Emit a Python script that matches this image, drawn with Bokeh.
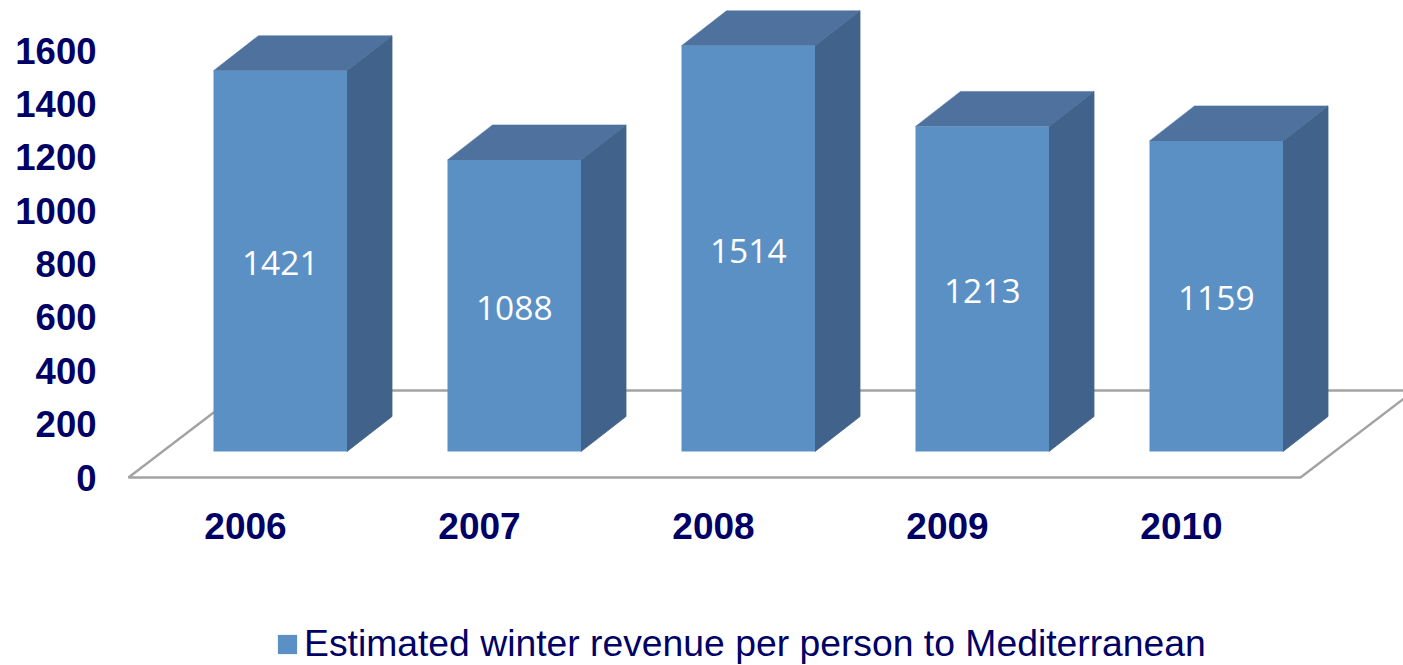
from bokeh.embed import file_html
from bokeh.resources import INLINE
from bokeh.plotting import figure
from bokeh.models import Range1d, LinearAxis, FixedTicker, Legend, LegendItem, ColumnDataSource
from bokeh.core.properties import value

years = ["2006", "2007", "2008", "2009", "2010"]
revenue = [1421, 1088, 1514, 1213, 1159]
y_ticks = [0, 200, 400, 600, 800, 1000, 1200, 1400, 1600]
series_name = "Estimated winter revenue per person to Mediterranean"

NAVY = "#000066"
FRONT, TOP, SIDE = "#5B90C4", "#4E729D", "#41638B"
FLOOR = "#A3A3A3"

W, H = 1403, 665
FL, FH = 105, H            # frame left / height: frame reaches the page bottom
FW = W - FL
PX_X = 234.0               # pixels per category
AX_S = 427 / 1600          # axis pixels per unit
BAR_S = 0.268              # bar pixels per unit
X0 = 23                    # floor front-left, px from frame left
AX0 = H - 477              # floor front, px above frame bottom
BAR0 = H - 451             # bar base, px above frame bottom

x_start = -X0 / PX_X
x_range = Range1d(x_start, x_start + FW / PX_X)
y_range = Range1d(-AX0 / AX_S, (FH - AX0) / AX_S)

p = figure(frame_width=FW, frame_height=FH, x_range=x_range, y_range=y_range,
           output_backend="svg", toolbar_location=None, x_axis_location=None, y_axis_location=None,
           min_border_left=FL, min_border_top=0, min_border_right=0, min_border_bottom=0,
           outline_line_color=None, background_fill_color="white", border_fill_color="white")
p.grid.visible = False
p.extra_y_ranges = {"bars": Range1d(-BAR0 / BAR_S, (FH - BAR0) / BAR_S)}

# Axes
ya = LinearAxis(ticker=FixedTicker(ticks=y_ticks), axis_line_color=None,
                major_tick_line_color=None, minor_tick_line_color=None,
                major_tick_out=0, major_tick_in=0, minor_tick_out=0, minor_tick_in=0,
                major_label_text_font="Liberation Sans", major_label_text_font_style="bold",
                major_label_text_font_size="36.5px", major_label_text_color=NAVY,
                major_label_standoff=9)
p.add_layout(ya, "left")

# Floor
DX = 114 / PX_X
DY = 87 / AX_S
n = len(years)
floor_end = n + 2 / PX_X
p.line([DX, 0, floor_end, floor_end + DX, DX], [DY, 0, 0, DY, DY], line_color=FLOOR, line_width=2.4)

# Bars
off = 85 / PX_X
bw = 133.5 / PX_X
dx, dy = 45 / PX_X, 35 / BAR_S
left = [i + off for i in range(n)]
right = [l + bw for l in left]
p.patches([[r, r + dx, r + dx, r] for r in right],
          [[0, dy, v + dy, v] for v in revenue],
          fill_color=SIDE, line_color=SIDE, line_width=0.8, y_range_name="bars")
p.patches([[l, r, r + dx, l + dx] for l, r in zip(left, right)],
          [[v, v, v + dy, v + dy] for v in revenue],
          fill_color=TOP, line_color=TOP, line_width=0.5, y_range_name="bars")
front = p.quad(left=left, right=right, bottom=0, top=revenue, fill_color=FRONT, line_color=None, y_range_name="bars")

# Data labels
src = ColumnDataSource(dict(x=[(l + r) / 2 for l, r in zip(left, right)],
                            y=[v / 2 for v in revenue], t=[str(v) for v in revenue]))
p.text("x", "y", text="t", source=src, y_range_name="bars", text_color="white",
       text_font=value("Open Sans"), text_font_size="33.5px", text_align="center",
       text_baseline="middle", y_offset=2)

# Category labels sit under the floor, in the data space of the frame
cat_src = ColumnDataSource(dict(x=[i + 0.5 for i in range(n)], t=years))
p.text("x", value(0), text="t", source=cat_src, text_color=NAVY, text_font=value("Liberation Sans"),
       text_font_style="bold", text_font_size="37px", text_align="center",
       text_baseline="middle", y_offset=48)

# Legend
leg = Legend(items=[LegendItem(label=series_name, renderers=[front])],
             location=(170, 0), orientation="horizontal", border_line_color=None,
             background_fill_alpha=0, padding=0, margin=0, glyph_width=24, glyph_height=24,
             label_text_font="Liberation Sans", label_text_font_size="37.3px",
             label_text_color=NAVY, label_standoff=5, label_height=30)
p.add_layout(leg, "center")

open("out.html", "w").write(file_html(p, INLINE))
